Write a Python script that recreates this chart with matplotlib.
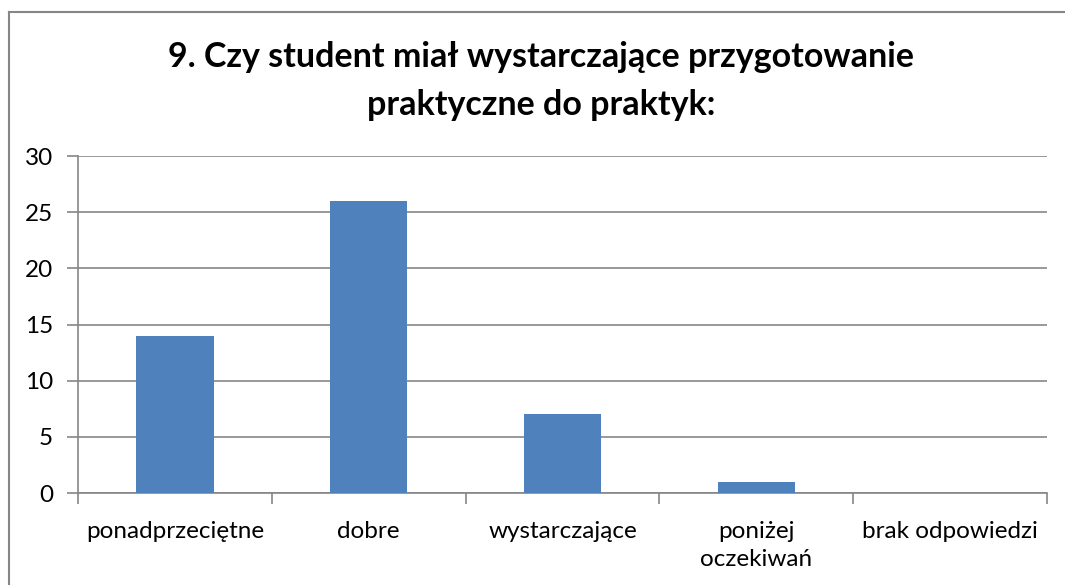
import matplotlib
matplotlib.use("Agg")
import matplotlib.pyplot as plt
from matplotlib.lines import Line2D

categories = ["ponadprzeciętne", "dobre", "wystarczające", "poniżej\noczekiwań", "brak odpowiedzi"]
values = [14, 26, 7, 1, 0]
yticks = [0, 5, 10, 15, 20, 25, 30]
title = "9. Czy student miał wystarczające przygotowanie\npraktyczne do praktyk:"

plt.rcParams['font.family'] = ['Lato', 'DejaVu Sans']
W, H = 1065, 585
fig = plt.figure(figsize=(W/100, H/100), dpi=100)
ax = fig.add_axes([78/W, 1-493/H, (1047-78)/W, (493-156)/H])

grey = "#868686"
x = list(range(len(categories)))
ax.bar(x, values, width=0.4, color="#4F81BD", zorder=3)
ax.set_xlim(-0.5, len(categories)-0.5)
ax.set_ylim(0, 30)
ax.set_yticks(yticks)
ax.set_yticklabels([str(t) for t in yticks], fontsize=17.5)
ax.yaxis.grid(True, color=grey, linewidth=1.2, zorder=0)
ax.tick_params(axis='y', length=8, color=grey, width=1.2, pad=10)
ax.set_xticks(x)
ax.set_xticklabels(categories, fontsize=17.5, linespacing=1.45)
ax.tick_params(axis='x', length=0, pad=20)
ax.set_xticks([i-0.5 for i in range(len(categories)+1)], minor=True)
ax.tick_params(axis='x', which='minor', length=8, color=grey, width=1.2)
for s in ['top', 'right']:
    ax.spines[s].set_visible(False)
for s in ['left', 'bottom']:
    ax.spines[s].set_color(grey)
    ax.spines[s].set_linewidth(1.2)

fig.text(541/W, 1-81/H, title, ha='center', va='center', fontsize=24.5,
         fontweight='bold', linespacing=1.6)

# chart area border (left and top visible)
fig.add_artist(Line2D([9/W, 9/W], [0, 1-12/H], transform=fig.transFigure, color=grey, linewidth=1.5))
fig.add_artist(Line2D([9/W, 1], [1-12/H, 1-12/H], transform=fig.transFigure, color=grey, linewidth=1.5))

fig.savefig("out.png", dpi=100)
